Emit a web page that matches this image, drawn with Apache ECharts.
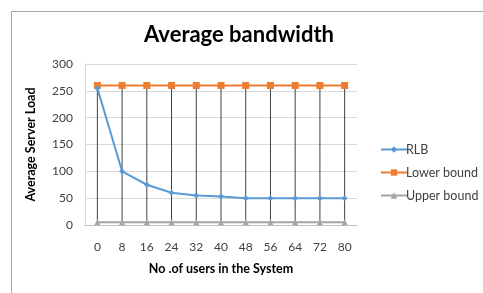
<!DOCTYPE html>
<html>
<head>
<meta charset="utf-8">
<script src="https://cdn.jsdelivr.net/npm/echarts@6/dist/echarts.min.js"></script>
<style>
  html, body { margin: 0; padding: 0; background: #fff; }
  #chart { width: 483px; height: 293px; }
</style>
</head>
<body>
<div id="chart"></div>
<script>
// 数据
const users = ['0', '8', '16', '24', '32', '40', '48', '56', '64', '72', '80'];
const rlb = [255, 100, 75, 60, 55, 53, 50, 50, 50, 50, 50];
const lowerBound = [260, 260, 260, 260, 260, 260, 260, 260, 260, 260, 260];
const upperBound = [5, 5, 5, 5, 5, 5, 5, 5, 5, 5, 5];
const yTicks = [0, 300, 50];  // min, max, interval

const font = 'Lato, "Open Sans", sans-serif';

// 高低线数据 (lower bound -> upper bound)
const dropData = users.map((u, i) => [i, upperBound[i], lowerBound[i]]);

const chart = echarts.init(document.getElementById('chart'));
chart.setOption({
    animation: false,
    title: {
        text: 'Average bandwidth',
        left: 234,
        top: 19,
        textAlign: 'center',
        textStyle: { fontFamily: font, fontSize: 22, fontWeight: 'bold', color: '#000' }
    },
    graphic: [{
        type: 'rect',
        left: 9, top: 9,
        shape: { width: 490, height: 300 },
        style: { fill: 'none', stroke: '#a6a6a6', lineWidth: 1 },
        silent: true
    }],
    legend: {
        orient: 'vertical',
        left: 375,
        top: 138,
        itemGap: 10,
        itemWidth: 26,
        itemHeight: 8,
        textStyle: { fontFamily: font, fontSize: 12.5, color: '#404040', padding: [0, 0, 0, -6] },
        data: ['RLB', 'Lower bound', 'Upper bound']
    },
    grid: { left: 85, right: 126, top: 64, bottom: 68 },
    xAxis: {
        type: 'category',
        data: users,
        name: 'No .of users in the System',
        nameLocation: 'middle',
        nameGap: 37,
        nameTextStyle: { fontFamily: font, fontSize: 12.5, fontWeight: 'bold', color: '#000' },
        axisLine: { lineStyle: { color: '#bfbfbf' } },
        axisTick: { show: false },
        axisLabel: { fontFamily: font, fontSize: 12, color: '#404040', margin: 16 }
    },
    yAxis: {
        type: 'value',
        min: yTicks[0], max: yTicks[1], interval: yTicks[2],
        name: 'Average Server Load',
        nameLocation: 'middle',
        nameGap: 48,
        nameTextStyle: { fontFamily: font, fontSize: 12.5, fontWeight: 'bold', color: '#000' },
        axisLine: { show: true, lineStyle: { color: '#d9d9d9' } },
        axisTick: { show: false },
        axisLabel: { fontFamily: font, fontSize: 12, color: '#404040', margin: 12 },
        splitLine: { lineStyle: { color: '#d9d9d9' } }
    },
    series: [
        {
            name: 'drop',
            type: 'custom',
            silent: true,
            z: 1,
            data: dropData,
            renderItem: function (params, api) {
                const p1 = api.coord([api.value(0), api.value(1)]);
                const p2 = api.coord([api.value(0), api.value(2)]);
                return {
                    type: 'line',
                    shape: { x1: p1[0], y1: p1[1], x2: p2[0], y2: p2[1] },
                    style: { stroke: '#404040', lineWidth: 1 }
                };
            }
        },
        {
            name: 'Upper bound',
            type: 'line',
            z: 2,
            data: upperBound,
            symbol: 'triangle',
            symbolSize: 6,
            itemStyle: { color: '#a5a5a5' },
            lineStyle: { color: '#a5a5a5', width: 2 }
        },
        {
            name: 'Lower bound',
            type: 'line',
            z: 3,
            data: lowerBound,
            symbol: 'rect',
            symbolSize: 7,
            itemStyle: { color: '#ed7d31' },
            lineStyle: { color: '#ed7d31', width: 2 }
        },
        {
            name: 'RLB',
            type: 'line',
            z: 4,
            data: rlb,
            symbol: 'diamond',
            symbolSize: 6,
            itemStyle: { color: '#5b9bd5' },
            lineStyle: { color: '#5b9bd5', width: 2 }
        }
    ]
});
</script>
</body>
</html>
